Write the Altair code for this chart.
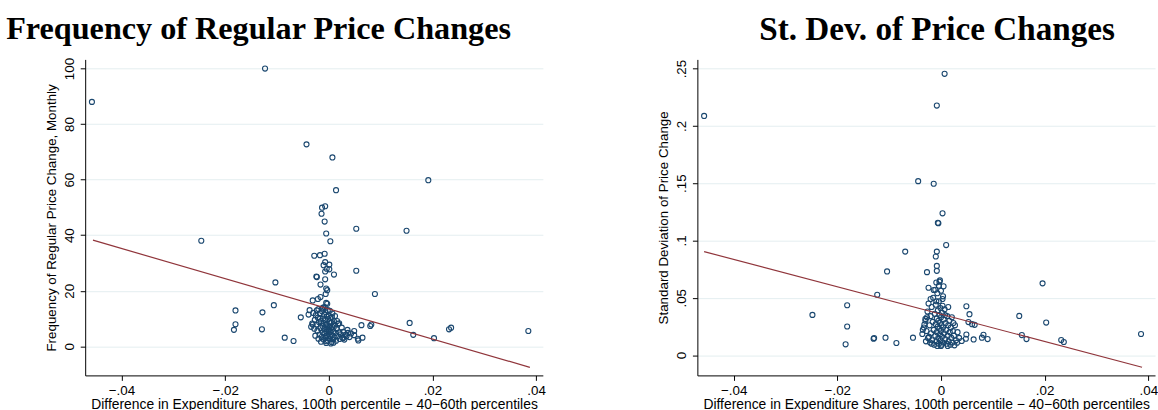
import altair as alt
import pandas as pd

# ---- Frequency of regular price changes (monthly, %) ----
freq_x = [
    -0.0457, -0.0123, -0.0043, 0.0007, 0.0014, 0.0192, 0.0053, 0.0150, -0.0246, -0.0103,
    -0.0106, -0.0180, -0.0180, -0.0183, -0.0128, -0.0129, -0.0054, -0.0085, -0.0068, -0.0034,
    -0.0037, -0.0039, -0.0031, -0.0028, -0.0017, -0.0008, -0.0023, -0.0031, -0.0021, -0.0016,
    -0.0008, -0.0005, 0.0003, 0.0010, 0.0053, 0.0089, 0.0156, 0.0163, 0.0203, 0.0232,
    0.0236, 0.0385, 0.0063, 0.0080, 0.0082, 0.0065, 0.0057, 0.0056, 0.0049, 0.0049,
    0.0037, 0.0028, 0.0016, 0.0020, 0.0009, -0.0007, 0.0001, -0.0010, -0.0004, -0.0007,
    0.0001, -0.0024, -0.0007, -0.0005, -0.0003, -0.0006, -0.0016, -0.0005, -0.0013, -0.0007,
    -0.0013, -0.0014,
    -0.0030, -0.0027, -0.0025, -0.0024, -0.0022, -0.0021, -0.0020, -0.0019, -0.0018, -0.0017,
    -0.0016, -0.0015, -0.0014, -0.0013, -0.0012, -0.0012, -0.0011, -0.0010, -0.0010, -0.0009,
    -0.0009, -0.0008, -0.0008, -0.0007, -0.0007, -0.0006, -0.0006, -0.0005, -0.0005, -0.0004,
    -0.0004, -0.0003, -0.0003, -0.0002, -0.0002, -0.0001, -0.0001, 0.0000, 0.0000, 0.0001,
    0.0001, 0.0002, 0.0002, 0.0003, 0.0003, 0.0004, 0.0005, 0.0005, 0.0006, 0.0007,
    0.0007, 0.0008, 0.0009, 0.0010, 0.0011, 0.0012, 0.0013, 0.0014, 0.0015, 0.0017,
    0.0018, 0.0020, 0.0021, 0.0023, 0.0025, 0.0026, 0.0028, 0.0030, 0.0032, 0.0034,
    0.0036, 0.0040, 0.0043, -0.0028, -0.0032, -0.0026, -0.0020, -0.0015, -0.0005, 0.0004,
    -0.0011, -0.0003, 0.0002, 0.0006, -0.0017, -0.0023, 0.0009, 0.0000, -0.0006, 0.0012,
]
freq_y = [
    88.0, 100.0, 72.7, 68.0, 56.2, 59.8, 42.3, 41.6, 38.0, 23.0,
    14.8, 12.9, 7.9, 5.9, 12.2, 6.1, 10.4, 3.1, 1.9, 7.0,
    13.0, 11.4, 7.8, 32.6, 32.8, 33.3, 24.9, 16.5, 17.0, 22.2,
    44.9, 40.6, 37.8, 25.8, 27.2, 18.8, 8.4, 4.1, 2.9, 6.1,
    6.7, 5.5, 7.6, 7.3, 7.8, 3.1, 2.1, 2.7, 5.5, 4.0,
    4.8, 3.0, 9.1, 8.3, 1.3, 30.3, 29.4, 29.2, 27.9, 26.9,
    27.7, 25.1, 24.1, 20.8, 20.2, 18.8, 17.7, 15.6, 13.6, 50.4,
    49.9, 47.7,
    12.0, 9.5, 11.2, 7.8, 5.6, 10.3, 13.4, 8.7, 4.2, 11.9,
    6.5, 9.1, 3.3, 12.6, 7.2, 5.0, 10.0, 2.4, 8.3, 6.1,
    11.4, 4.6, 14.1, 9.4, 3.0, 7.6, 12.2, 5.3, 1.8, 10.7,
    8.0, 3.9, 6.8, 13.0, 2.1, 9.8, 5.7, 4.4, 11.0, 7.0,
    2.8, 8.9, 5.1, 3.5, 10.2, 6.4, 1.5, 8.5, 4.0, 11.8,
    6.9, 2.5, 5.4, 9.0, 3.2, 7.4, 4.8, 2.0, 6.2, 3.7,
    8.1, 5.0, 2.6, 4.3, 6.7, 3.1, 5.2, 2.4, 4.1, 3.6,
    5.9, 3.3, 4.6, 6.3, 8.2, 3.8, 2.7, 1.6, 1.2, 1.0,
    13.9, 15.3, 12.8, 10.5, 9.9, 12.9, 7.8, 6.0, 3.6, 10.9,
]

# ---- Standard deviation of price changes ----
sd_x = [
    -0.0457, 0.0007, -0.0008, -0.0044, -0.0014, 0.0003, -0.0006, -0.0005, 0.0010, -0.0069,
    -0.0008, -0.0010, -0.0104, -0.0027, -0.0008, -0.0008, -0.0002, -0.0009, 0.0196, -0.0123,
    0.0049, 0.0014, 0.0055, 0.0151, 0.0203, 0.0053, 0.0060, 0.0065, 0.0156, 0.0165,
    0.0232, 0.0237, 0.0386, 0.0082, 0.0079, 0.0090, 0.0063, 0.0049, 0.0048, 0.0040,
    0.0031, 0.0026, -0.0054, -0.0086, -0.0107, -0.0130, -0.0129, -0.0248, -0.0181, -0.0181,
    -0.0184, -0.0024, -0.0014, -0.0004, 0.0000, 0.0004, -0.0020, -0.0036, -0.0035, -0.0032,
    -0.0030,
    -0.0030, -0.0028, -0.0026, -0.0025, -0.0024, -0.0022, -0.0021, -0.0020, -0.0019, -0.0018,
    -0.0017, -0.0016, -0.0015, -0.0014, -0.0013, -0.0012, -0.0011, -0.0010, -0.0010, -0.0009,
    -0.0008, -0.0008, -0.0007, -0.0007, -0.0006, -0.0006, -0.0005, -0.0005, -0.0004, -0.0004,
    -0.0003, -0.0003, -0.0002, -0.0002, -0.0001, -0.0001, 0.0000, 0.0000, 0.0001, 0.0001,
    0.0002, 0.0002, 0.0003, 0.0004, 0.0004, 0.0005, 0.0006, 0.0007, 0.0008, 0.0009,
    0.0010, 0.0011, 0.0012, 0.0013, 0.0014, 0.0015, 0.0016, 0.0017, 0.0018, 0.0019,
    0.0020, 0.0021, 0.0022, 0.0023, 0.0025, 0.0027, 0.0029, 0.0032, 0.0035, -0.0027,
    -0.0023, -0.0018, -0.0011, 0.0005, -0.0003, 0.0000, -0.0009, 0.0003, 0.0008, 0.0013,
    0.0024, -0.0033, -0.0029,
]
sd_y = [
    0.2087, 0.2454, 0.2177, 0.1518, 0.1495, 0.1237, 0.1154, 0.1150, 0.0960, 0.0903,
    0.0903, 0.0860, 0.0730, 0.0724, 0.0778, 0.0735, 0.0652, 0.0634, 0.0626, 0.0527,
    0.0426, 0.0420, 0.0357, 0.0342, 0.0284, 0.0288, 0.0270, 0.0264, 0.0175, 0.0140,
    0.0132, 0.0114, 0.0184, 0.0178, 0.0152, 0.0140, 0.0137, 0.0180, 0.0143, 0.0123,
    0.0108, 0.0085, 0.0152, 0.0106, 0.0152, 0.0143, 0.0149, 0.0351, 0.0435, 0.0250,
    0.0094, 0.0588, 0.0568, 0.0605, 0.0562, 0.0513, 0.0490, 0.0184, 0.0221, 0.0267,
    0.0316,
    0.0300, 0.0210, 0.0380, 0.0150, 0.0450, 0.0260, 0.0110, 0.0340, 0.0190, 0.0420,
    0.0130, 0.0290, 0.0500, 0.0220, 0.0090, 0.0360, 0.0170, 0.0270, 0.0440, 0.0120,
    0.0320, 0.0200, 0.0540, 0.0080, 0.0250, 0.0390, 0.0150, 0.0300, 0.0470, 0.0100,
    0.0230, 0.0350, 0.0180, 0.0280, 0.0410, 0.0130, 0.0330, 0.0210, 0.0090, 0.0260,
    0.0370, 0.0160, 0.0490, 0.0240, 0.0110, 0.0310, 0.0190, 0.0400, 0.0140, 0.0280,
    0.0220, 0.0100, 0.0340, 0.0170, 0.0260, 0.0120, 0.0300, 0.0200, 0.0090, 0.0240,
    0.0150, 0.0330, 0.0110, 0.0210, 0.0170, 0.0260, 0.0130, 0.0200, 0.0150, 0.0330,
    0.0160, 0.0100, 0.0570, 0.0600, 0.0640, 0.0080, 0.0470, 0.0430, 0.0350, 0.0080,
    0.0280, 0.0240, 0.0120,
]

# Linear fit lines (endpoints at the extreme x values)
freq_fit_x = [-0.0455, 0.0388]
freq_fit_y = [38.2, -7.6]
sd_fit_x = [-0.0457, 0.0388]
sd_fit_y = [0.0903, -0.0106]

x_ticks = [-0.04, -0.02, 0, 0.02, 0.04]
freq_ticks = [0, 20, 40, 60, 80, 100]
sd_ticks = [0, 0.05, 0.1, 0.15, 0.2, 0.25]

X_TITLE = "Difference in Expenditure Shares, 100th percentile \u2212 40\u221260th percentiles"
NAVY = "#1a476f"
MAROON = "#90353b"
SANS = "Liberation Sans"
SERIF = "Liberation Serif"
W, H = 462, 319

x_label_expr = ("datum.value == 0 ? '0' : (datum.value < 0 ? '\u2212' : '') + "
                "replace(format(abs(datum.value), '.2f'), '0.', '.')")
sd_label_expr = "datum.value == 0 ? '0' : replace(toString(datum.value), '0.', '.')"


def x_enc():
    return alt.X(
        "x:Q",
        scale=alt.Scale(domain=[-0.047, 0.0413], nice=False, zero=False),
        axis=alt.Axis(values=x_ticks, labelExpr=x_label_expr, title=X_TITLE,
                      grid=False, titlePadding=1, labelPadding=3, titleFontSize=14),
    )


def panel(px, py, fx, fy, ydom, yticks, ytitle, ylabel_expr, title, dx, tsize):
    pts = pd.DataFrame({"x": px, "y": py})
    fit = pd.DataFrame({"x": fx, "y": fy})
    y_scale = alt.Scale(domain=ydom, nice=False, zero=False)
    y_axis = alt.Axis(values=yticks, title=ytitle, grid=True, labelAngle=270,
                      labelAlign="center", labelBaseline="bottom", labelPadding=4,
                      titlePadding=4, titleFontSize=13.5,
                      **({"labelExpr": ylabel_expr} if ylabel_expr else {}))
    scatter = alt.Chart(pts).mark_point(
        filled=False, color=NAVY, size=26, strokeWidth=1.1, opacity=1
    ).encode(x=x_enc(), y=alt.Y("y:Q", scale=y_scale, axis=y_axis))
    line = alt.Chart(fit).mark_line(color=MAROON, strokeWidth=1.2).encode(
        x="x:Q", y="y:Q"
    )
    return alt.layer(scatter, line).properties(
        width=W, height=H,
        title=alt.TitleParams(title, anchor="middle", frame="group", dx=dx,
                              font=SERIF, fontSize=tsize, fontWeight="bold",
                              color="#000000", offset=12),
    )


left = panel(freq_x, freq_y, freq_fit_x, freq_fit_y, [-10.5, 103.3], freq_ticks,
             "Frequency of Regular Price Change, Monthly", None,
             "Frequency of Regular Price Changes", -56, 32.5)
right = panel(sd_x, sd_y, sd_fit_x, sd_fit_y, [-0.0177, 0.258], sd_ticks,
              "Standard Deviation of Price Change", sd_label_expr,
              "St. Dev. of Price Changes", 11, 33.5)

chart = alt.hconcat(left, right, spacing=111).properties(
    padding={"left": 5, "top": 11, "right": 0, "bottom": 0},
    background="white",
).configure_view(stroke=None).configure_axis(
    labelFont=SANS, titleFont=SANS, labelFontSize=13.5, titleFontSize=13.5,
    titleFontWeight="normal", labelColor="#000000", titleColor="#000000",
    domainColor="#000000", tickColor="#000000", domainWidth=1, tickWidth=1,
    tickSize=5, gridColor="#e4eef0", gridWidth=1,
)

chart.save("out.html", embed_options={"renderer": "svg", "actions": False})
